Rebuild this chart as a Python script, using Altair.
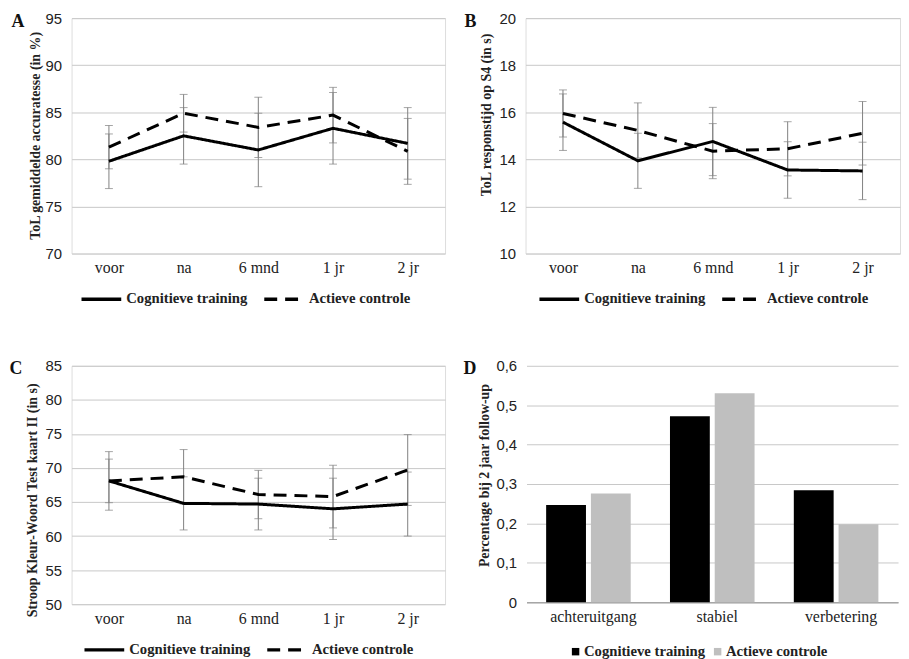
import altair as alt
import pandas as pd

# ---------------- data ----------------
categories = ["voor", "na", "6 mnd", "1 jr", "2 jr"]
groups = ["Cognitieve training", "Actieve controle"]

a_cog = [79.8, 82.5, 81.0, 83.3, 81.7]
a_cog_err = [2.9, 3.0, 3.9, 3.8, 3.8]
a_ctrl = [81.3, 84.9, 83.4, 84.7, 80.85]
a_ctrl_err = [2.3, 2.0, 3.2, 2.95, 3.5]

b_cog = [15.58, 13.94, 14.76, 13.55, 13.51]
b_cog_err = [1.2, 1.17, 1.45, 1.2, 1.22]
b_ctrl = [15.95, 15.23, 14.35, 14.45, 15.11]
b_ctrl_err = [1.0, 1.17, 1.17, 1.15, 1.35]

c_cog = [68.1, 64.8, 64.7, 64.0, 64.7]
c_cog_err = [4.3, 3.9, 3.8, 4.5, 4.7]
c_ctrl = [68.1, 68.7, 66.1, 65.8, 69.7]
c_ctrl_err = [3.2, 4.0, 3.55, 4.6, 5.2]

d_categories = ["achteruitgang", "stabiel", "verbetering"]
d_cog = [0.247, 0.472, 0.284]
d_ctrl = [0.276, 0.530, 0.198]

a_ticks = [70, 75, 80, 85, 90, 95]
b_ticks = [10, 12, 14, 16, 18, 20]
c_ticks = [50, 55, 60, 65, 70, 75, 80, 85]
d_ticks = [0, 0.1, 0.2, 0.3, 0.4, 0.5, 0.6]

SERIF = "Liberation Serif"
SANS = "Liberation Sans"
GRID = "#c8c8c8"
EBAR = "#808080"
TXT = "#222222"


def long_df(cog, cog_err, ctrl, ctrl_err):
    rows = []
    for g, vals, errs in [(groups[0], cog, cog_err), (groups[1], ctrl, ctrl_err)]:
        for i, (c, v, e) in enumerate(zip(categories, vals, errs)):
            rows.append({"cat": c, "idx": i, "group": g, "value": v,
                         "lo": v - e, "hi": v + e})
    return pd.DataFrame(rows)


def x_axis(letter, letter_dx, h, **extra):
    # the panel letter is drawn as the x-axis title, placed at the top-left corner
    return alt.Axis(title=letter, titleX=letter_dx, titleY=-h - 6, titleAngle=0,
                    titleAlign="left", titleBaseline="top", titleFont=SERIF,
                    titleFontSize=18, titleFontWeight="bold", titleColor="#111111",
                    labelAngle=0, ticks=False, grid=False, labelFont=SERIF,
                    labelFontSize=16, labelColor=TXT, labelPadding=6, **extra)


def line_panel(letter, letter_dx, cog, cog_err, ctrl, ctrl_err, domain, tick_values,
               ytitle, title_x, title_y, legend_x, w, h):
    df = long_df(cog, cog_err, ctrl, ctrl_err)
    x = alt.X("cat:N",
              scale=alt.Scale(type="point", padding=0.5, domain=categories),
              axis=x_axis(letter, letter_dx, h, domain=False))
    yscale = alt.Scale(domain=domain, nice=False, zero=False)
    yaxis = alt.Axis(values=tick_values, title=ytitle, grid=True, gridColor=GRID,
                     ticks=False, domain=False, labelFont=SANS, labelFontSize=15,
                     labelColor=TXT, labelPadding=10,
                     titleFont=SERIF, titleFontWeight="bold", titleFontSize=14,
                     titleColor=TXT, titleX=title_x, titleY=title_y)

    def Y(field):
        return alt.Y(f"{field}:Q", scale=yscale, axis=yaxis)

    rule = alt.Chart(df).mark_rule(color=EBAR, strokeWidth=1).encode(
        x=x, y=Y("lo"), y2="hi:Q")
    tlo = alt.Chart(df).mark_tick(color=EBAR, size=8, thickness=1).encode(x=x, y=Y("lo"))
    thi = alt.Chart(df).mark_tick(color=EBAR, size=8, thickness=1).encode(x=x, y=Y("hi"))
    line = alt.Chart(df).mark_line(color="black", strokeWidth=3).encode(
        x=x, y=Y("value"),
        order=alt.Order("idx:Q"),
        strokeDash=alt.StrokeDash(
            "group:N",
            scale=alt.Scale(domain=groups, range=[[1, 0], [13, 8]]),
            legend=alt.Legend(title=None, orient="none", legendX=legend_x, legendY=h + 24,
                              direction="horizontal", symbolType="stroke",
                              symbolSize=1600, symbolStrokeWidth=3.5,
                              symbolStrokeColor="black",
                              labelFont=SERIF, labelFontWeight="bold", labelFontSize=14.8,
                              labelColor=TXT, labelOffset=3, columnPadding=9)))
    return alt.layer(rule, tlo, thi, line).properties(width=w, height=h)


H1 = 237
pa = line_panel("A", -61, a_cog, a_cog_err, a_ctrl, a_ctrl_err, [70, 95], a_ticks,
                "ToL gemiddelde accuratesse (in %)", -29, 118, 8, 376, H1)
pb = line_panel("B", -62, b_cog, b_cog_err, b_ctrl, b_ctrl_err, [10, 20], b_ticks,
                "ToL responstijd op S4 (in s)", -32, 97, 12, 377, H1)
pc = line_panel("C", -63, c_cog, c_cog_err, c_ctrl, c_ctrl_err, [50, 85], c_ticks,
                "Stroop Kleur-Woord Test kaart II (in s)", -32, 135, 11, 376, 240)

# ---------------- panel D ----------------
d_rows = []
for g, vals in [(groups[0], d_cog), (groups[1], d_ctrl)]:
    for c, v in zip(d_categories, vals):
        d_rows.append({"cat": c, "group": g, "value": v})
d_df = pd.DataFrame(d_rows)

D_H = 238
pd_chart = alt.Chart(d_df).mark_bar().encode(
    x=alt.X("cat:N",
            scale=alt.Scale(domain=d_categories, paddingInner=0.317, paddingOuter=0.1585),
            axis=x_axis("D", -64, D_H, domain=True, domainColor="#a6a6a6",
                        domainWidth=1.5, labelOffset=5)),
    xOffset=alt.XOffset("group:N",
                        scale=alt.Scale(domain=groups, paddingInner=0.11, paddingOuter=0)),
    y=alt.Y("value:Q",
            scale=alt.Scale(domain=[0, 0.6], nice=False),
            axis=alt.Axis(values=d_ticks, title="Percentage bij 2 jaar follow-up",
                          grid=True, gridColor=GRID, ticks=False, domain=False,
                          labelFont=SANS, labelFontSize=15, labelColor=TXT, labelPadding=10,
                          labelExpr="datum.value == 0 ? '0' : replace(format(datum.value, '.1f'), '.', ',')",
                          titleFont=SERIF, titleFontWeight="bold", titleFontSize=14,
                          titleColor=TXT, titleX=-35, titleY=110)),
    color=alt.Color("group:N",
                    scale=alt.Scale(domain=groups, range=["#000000", "#bfbfbf"]),
                    legend=alt.Legend(title=None, orient="none", legendX=42, legendY=D_H + 42,
                                      direction="horizontal", symbolType="square",
                                      symbolSize=56, symbolStrokeWidth=0,
                                      labelFont=SERIF, labelFontWeight="bold",
                                      labelFontSize=14.8, labelColor=TXT, labelOffset=1,
                                      columnPadding=5)),
).properties(width=374, height=D_H, view=alt.ViewBackground(stroke="transparent"))

indep = dict(x="independent", y="independent", strokeDash="independent", color="independent")

row1 = alt.hconcat(pa, pb, spacing=17).resolve_scale(**indep).resolve_legend(
    strokeDash="independent", color="independent")
row2 = alt.hconcat(pc, pd_chart, spacing=16).resolve_scale(**indep).resolve_legend(
    strokeDash="independent", color="independent")

chart = alt.vconcat(row1, row2, spacing=51).resolve_scale(**indep).resolve_legend(
    strokeDash="independent", color="independent").properties(
    padding={"left": 0, "top": 0, "right": 0, "bottom": 0}
).configure_view(stroke=GRID, strokeWidth=1).configure(background="white")

chart.save("out.html", embed_options={"renderer": "svg", "actions": False})
